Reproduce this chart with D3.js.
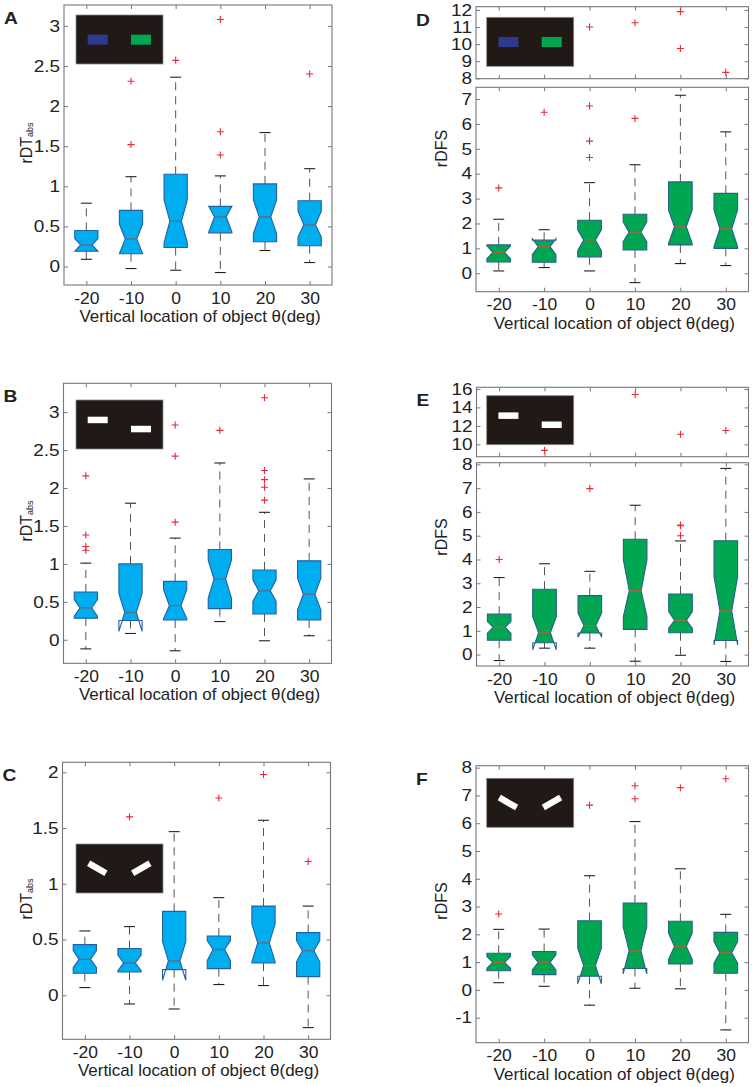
<!DOCTYPE html>
<html>
<head>
<meta charset="utf-8">
<script src="https://cdn.jsdelivr.net/npm/d3@7"></script>
<style>
body { margin: 0; background: #fff; }
text { font-family: Arial, "Liberation Sans", sans-serif; fill: #222; }
</style>
</head>
<body>
<script>
const positions = [-20, -10, 0, 10, 20, 30];

// each row: [whiskerLow, q1, notchLow, median, notchHigh, q3, whiskerHigh]
const statsA = [
  [0.09, 0.19, 0.19, 0.27, 0.35, 0.45, 0.79],
  [-0.025, 0.16, 0.16, 0.345, 0.53, 0.70, 1.12],
  [-0.046, 0.237, 0.30, 0.565, 0.83, 1.15, 2.36],
  [-0.075, 0.42, 0.43, 0.62, 0.75, 0.75, 1.13],
  [0.20, 0.31, 0.41, 0.62, 0.83, 1.03, 1.67],
  [0.05, 0.26, 0.37, 0.52, 0.69, 0.82, 1.22]
];
const outliersA = [[], [2.31, 1.52], [2.57], [3.08, 1.68, 1.39], [], [2.40]];

const statsB = [
  [-0.12, 0.285, 0.31, 0.42, 0.53, 0.63, 1.01],
  [0.083, 0.255, 0.11, 0.36, 0.61, 1.00, 1.80],
  [-0.145, 0.26, 0.28, 0.45, 0.66, 0.77, 1.34],
  [0.24, 0.41, 0.55, 0.80, 1.05, 1.19, 2.33],
  [-0.013, 0.34, 0.505, 0.645, 0.79, 0.92, 1.68],
  [0.053, 0.26, 0.395, 0.60, 0.81, 1.04, 2.12]
];
const outliersB = [[2.16, 1.38, 1.23, 1.18], [], [2.83, 2.42, 1.55], [2.76], [3.19, 2.23, 2.11, 2.01, 1.84], []];

const statsC = [
  [0.069, 0.197, 0.25, 0.323, 0.40, 0.454, 0.577],
  [-0.078, 0.209, 0.22, 0.29, 0.36, 0.419, 0.616],
  [-0.123, 0.23, 0.135, 0.308, 0.48, 0.753, 1.468],
  [0.096, 0.239, 0.31, 0.41, 0.49, 0.532, 0.876],
  [0.087, 0.29, 0.30, 0.47, 0.64, 0.80, 1.57],
  [-0.29, 0.167, 0.30, 0.40, 0.49, 0.562, 0.80]
];
const outliersC = [[], [1.60], [], [1.77], [1.98], [1.20]];

const statsD = [
  [0.094, 0.455, 0.58, 0.84, 1.10, 1.14, 2.17],
  [0.23, 0.44, 0.75, 1.07, 1.39, 1.33, 1.75],
  [0.094, 0.66, 0.91, 1.34, 1.74, 2.13, 3.64],
  [-0.375, 0.94, 1.27, 1.65, 2.07, 2.37, 4.36],
  [0.39, 1.14, 1.20, 1.87, 2.54, 3.67, 7.15],
  [0.31, 1.00, 1.07, 1.79, 2.54, 3.21, 5.68]
];
const outliersD = [[3.43], [6.47], [6.72, 5.31, 4.65, 11.0], [6.22, 11.25], [11.9, 9.75], [8.35]];

const statsE = [
  [-0.25, 0.60, 0.90, 1.15, 1.39, 1.70, 3.24],
  [0.27, 0.50, 0.20, 0.92, 1.60, 2.75, 3.82],
  [0.27, 0.91, 0.73, 1.22, 1.74, 2.48, 3.50],
  [-0.28, 1.06, 1.60, 2.69, 3.98, 4.85, 6.28],
  [-0.03, 0.92, 1.11, 1.44, 1.81, 2.55, 4.78],
  [-0.29, 0.59, 0.41, 1.84, 3.28, 4.79, 7.83]
];
const outliersE = [[4.0], [9.35], [6.98], [15.4], [5.45, 5.42, 5.0, 11.1], [11.5]];

const statsF = [
  [0.26, 0.69, 0.78, 0.99, 1.20, 1.32, 2.18],
  [0.13, 0.55, 0.72, 0.99, 1.26, 1.38, 2.19],
  [-0.55, 0.49, 0.22, 0.875, 1.50, 2.49, 4.11],
  [0.06, 0.77, 0.575, 1.41, 2.28, 3.13, 6.06],
  [0.04, 0.93, 1.10, 1.56, 2.04, 2.47, 4.36],
  [-1.44, 0.60, 0.96, 1.34, 1.74, 2.07, 2.72]
];
const outliersF = [[2.73], [], [6.65], [7.35, 6.88], [7.28], [7.6]];

const ticksRdtAB = [0, 0.5, 1, 1.5, 2, 2.5, 3];
const ticksRdtC = [0, 0.5, 1, 1.5, 2];
const ticksDTop = [8, 9, 10, 11, 12];
const ticksDBottom = [0, 1, 2, 3, 4, 5, 6, 7];
const ticksETop = [10, 12, 14, 16];
const ticksEBottom = [0, 1, 2, 3, 4, 5, 6, 7, 8];
const ticksF = [-1, 0, 1, 2, 3, 4, 5, 6, 7, 8];

const xLabel = "Vertical location of object \u03b8(deg)";

const blueStyle = { fill: "#00adee", edge: "#2360a6", median: "#5d6c86" };
const greenStyle = { fill: "#00a651", edge: "#28608a", median: "#a0683e" };

const panels = [
  { letter: "A", left: 64, right: 332, style: blueStyle, stats: statsA, outliers: outliersA,
    subs: [{ top: 5, bottom: 285, domain: [-0.23, 3.26], ticks: ticksRdtAB }],
    yLab: "rdt", yLabX: 31.5, yLabY: 143, inset: "color", insetX: 76, insetY: 15 },
  { letter: "B", left: 63.5, right: 331.5, style: blueStyle, stats: statsB, outliers: outliersB,
    subs: [{ top: 383.3, bottom: 663.3, domain: [-0.31, 3.38], ticks: ticksRdtAB }],
    yLab: "rdt", yLabX: 31.5, yLabY: 521, inset: "bars", insetX: 76, insetY: 400 },
  { letter: "C", left: 62.5, right: 330.5, style: blueStyle, stats: statsC, outliers: outliersC,
    subs: [{ top: 762.3, bottom: 1039.3, domain: [-0.395, 2.09], ticks: ticksRdtC }],
    yLab: "rdt", yLabX: 31.5, yLabY: 899, inset: "tilt", insetX: 76, insetY: 844 },
  { letter: "D", left: 476, right: 748.5, style: greenStyle, stats: statsD, outliers: outliersD,
    subs: [{ top: 6.7, bottom: 78.7, domain: [7.98, 12.19], ticks: ticksDTop, upper: true },
           { top: 87.3, bottom: 291.7, domain: [-0.74, 7.47], ticks: ticksDBottom }],
    yLab: "rdfs", yLabX: 447, yLabY: 148.5, inset: "color", insetX: 486.7, insetY: 17.3 },
  { letter: "E", left: 476.5, right: 748.5, style: greenStyle, stats: statsE, outliers: outliersE,
    subs: [{ top: 387.3, bottom: 456.7, domain: [8.66, 16.18], ticks: ticksETop, upper: true },
           { top: 462.7, bottom: 666, domain: [-0.48, 8.07], ticks: ticksEBottom }],
    yLab: "rdfs", yLabX: 447, yLabY: 537, inset: "bars", insetX: 486.7, insetY: 395.7 },
  { letter: "F", left: 476, right: 748.5, style: greenStyle, stats: statsF, outliers: outliersF,
    subs: [{ top: 765.7, bottom: 1042.7, domain: [-1.9, 8.07], ticks: ticksF }],
    yLab: "rdfs", yLabX: 447, yLabY: 901, inset: "tilt", insetX: 486.7, insetY: 778.3 }
];

const svg = d3.select("body").append("svg")
  .attr("width", 753)
  .attr("height", 1087);

const fmt = d => String(d);

// the source figure was stretched sideways, so glyphs are a bit wider than tall.
// scale about the text's own anchor point (x, y)
function stretch(sel, k) {
  sel.each(function() {
    let t = d3.select(this);
    let ax = +t.attr("x") || 0, ay = +t.attr("y") || 0;
    t.attr("transform", `translate(${ax},${ay}) scale(${k},1) translate(${-ax},${-ay})`);
  });
}

function drawPanel(p) {
  let g = svg.append("g");
  let x = d3.scaleLinear().domain([-25, 35]).range([p.left, p.right]);
  let hw = x(2.6) - x(0);
  let inset = hw / 2;
  let capHalf = 5.5;

  p.subs.forEach(s => { s.y = d3.scaleLinear().domain(s.domain).range([s.bottom, s.top]); });
  let main = p.subs[p.subs.length - 1];

  p.subs.forEach(s => {
    // axes on all four sides, ticks pointing inward
    let left = g.append("g").attr("transform", `translate(${p.left},0)`)
      .call(d3.axisLeft(s.y).tickValues(s.ticks).tickSize(-4).tickPadding(4).tickFormat(fmt));
    let right = g.append("g").attr("transform", `translate(${p.right},0)`)
      .call(d3.axisRight(s.y).tickValues(s.ticks).tickSize(-4).tickFormat(""));
    let top = g.append("g").attr("transform", `translate(0,${s.top})`)
      .call(d3.axisTop(x).tickValues(positions).tickSize(-4).tickFormat(""));
    let bottom = g.append("g").attr("transform", `translate(0,${s.bottom})`)
      .call(d3.axisBottom(x).tickValues(positions).tickSize(-4).tickPadding(7)
        .tickFormat(s.upper ? "" : fmt));
    [left, right, top, bottom].forEach(a => {
      a.select(".domain").remove();
      a.selectAll(".tick line").attr("stroke", "#777");
      a.selectAll("text").attr("font-size", 16.5).attr("fill", "#222")
        .style("font-family", "Arial, 'Liberation Sans', sans-serif");
    });
    stretch(left.selectAll("text"), 1.15);
    stretch(bottom.selectAll("text"), 1.06);
    g.append("rect")
      .attr("x", p.left).attr("y", s.top)
      .attr("width", p.right - p.left).attr("height", s.bottom - s.top)
      .attr("fill", "none").attr("stroke", "#777").attr("stroke-width", 1.1);
  });

  let y = main.y;

  // boxes
  p.stats.forEach((st, i) => {
    let [wLo, q1, nLo, med, nHi, q3, wHi] = st;
    let cx = x(positions[i]);
    let L = cx - hw, R = cx + hw;

    // whiskers
    g.append("line").attr("x1", cx).attr("x2", cx).attr("y1", y(q3)).attr("y2", y(wHi))
      .attr("stroke", "#555").attr("stroke-dasharray", "8,6");
    g.append("line").attr("x1", cx).attr("x2", cx).attr("y1", y(q1)).attr("y2", y(wLo))
      .attr("stroke", "#555").attr("stroke-dasharray", "8,6");
    [wLo, wHi].forEach(v => {
      g.append("line").attr("x1", cx - capHalf).attr("x2", cx + capHalf)
        .attr("y1", y(v)).attr("y2", y(v)).attr("stroke", "#222").attr("stroke-width", 1.1);
    });

    // fill clipped to the box [q1, q3]
    let fillPts = [];
    if (nLo < q1) {
      let t = (q1 - nLo) / (med - nLo);
      fillPts.push([L + inset * t, y(q1)]);
    } else {
      fillPts.push([L, y(q1)], [L, y(nLo)]);
    }
    fillPts.push([L + inset, y(med)]);
    if (nHi > q3) {
      let t = (nHi - q3) / (nHi - med);
      fillPts.push([L + inset * t, y(q3)]);
    } else {
      fillPts.push([L, y(nHi)], [L, y(q3)]);
    }
    let rightPts = fillPts.map(d => [2 * cx - d[0], d[1]]).reverse();
    fillPts = fillPts.concat(rightPts);
    g.append("path").attr("d", d3.line()(fillPts) + "Z").attr("fill", p.style.fill);

    // outline (may flare beyond the box)
    let outline = [[L, y(q1)], [L, y(nLo)], [L + inset, y(med)], [L, y(nHi)], [L, y(q3)],
      [R, y(q3)], [R, y(nHi)], [R - inset, y(med)], [R, y(nLo)], [R, y(q1)]];
    g.append("path").attr("d", d3.line()(outline) + "Z")
      .attr("fill", "none").attr("stroke", p.style.edge).attr("stroke-width", 1.1);

    g.append("line").attr("x1", L + inset).attr("x2", R - inset)
      .attr("y1", y(med)).attr("y2", y(med))
      .attr("stroke", p.style.median).attr("stroke-width", 1.3);

    // outliers, routed to the subplot that holds them
    p.outliers[i].forEach(v => {
      let s = p.subs.find(sb => v >= sb.domain[0] && v <= sb.domain[1]) || main;
      let py = s.y(v);
      g.append("path")
        .attr("d", `M${cx - 3.5},${py}H${cx + 3.5}M${cx},${py - 3.5}V${py + 3.5}`)
        .attr("stroke", "#e8283c").attr("stroke-width", 1.1);
    });
  });

  // inset picture
  let ig = g.append("g").attr("transform", `translate(${p.insetX},${p.insetY})`);
  ig.append("rect").attr("width", 87).attr("height", 49)
    .attr("fill", "#211915").attr("stroke", "#8a8a8a").attr("stroke-width", 0.8);
  if (p.inset === "color") {
    ig.append("rect").attr("x", 11.7).attr("y", 19.7).attr("width", 20).attr("height", 10).attr("fill", "#2e3a8e");
    ig.append("rect").attr("x", 55).attr("y", 19.7).attr("width", 20).attr("height", 10).attr("fill", "#00a651");
  } else if (p.inset === "bars") {
    ig.append("rect").attr("x", 11.7).attr("y", 16.7).attr("width", 20).attr("height", 6.5).attr("fill", "#fff");
    ig.append("rect").attr("x", 55).attr("y", 25.8).attr("width", 20).attr("height", 6.5).attr("fill", "#fff");
  } else {
    ig.append("rect").attr("x", -10).attr("y", -3.2).attr("width", 20).attr("height", 6.4)
      .attr("fill", "#fff").attr("transform", "translate(21.3,24.3) rotate(30)");
    ig.append("rect").attr("x", -10).attr("y", -3.2).attr("width", 20).attr("height", 6.4)
      .attr("fill", "#fff").attr("transform", "translate(65.3,24.3) rotate(-30)");
  }

  // labels
  let letter = g.append("text").attr("x", p.left - 60).attr("y", p.subs[0].top + 19)
    .attr("font-size", 16).attr("font-weight", "bold").attr("fill", "#111")
    .text(p.letter);
  stretch(letter, 1.2);

  let yl = g.append("text")
    .attr("transform", `translate(${p.yLabX},${p.yLabY}) rotate(-90)`)
    .attr("text-anchor", "middle").attr("font-size", 16);
  if (p.yLab === "rdt") {
    yl.append("tspan").text("rDT");
    yl.append("tspan").attr("font-size", 9).attr("dy", 1.5).text("abs");
  } else {
    yl.text("rDFS");
  }

  let xl = g.append("text")
    .attr("x", (p.left + p.right) / 2 + 2).attr("y", main.bottom + 37)
    .attr("text-anchor", "middle").attr("font-size", 16)
    .text(xLabel);
  stretch(xl, 1.06);
}

panels.forEach(drawPanel);
</script>
</body>
</html>
